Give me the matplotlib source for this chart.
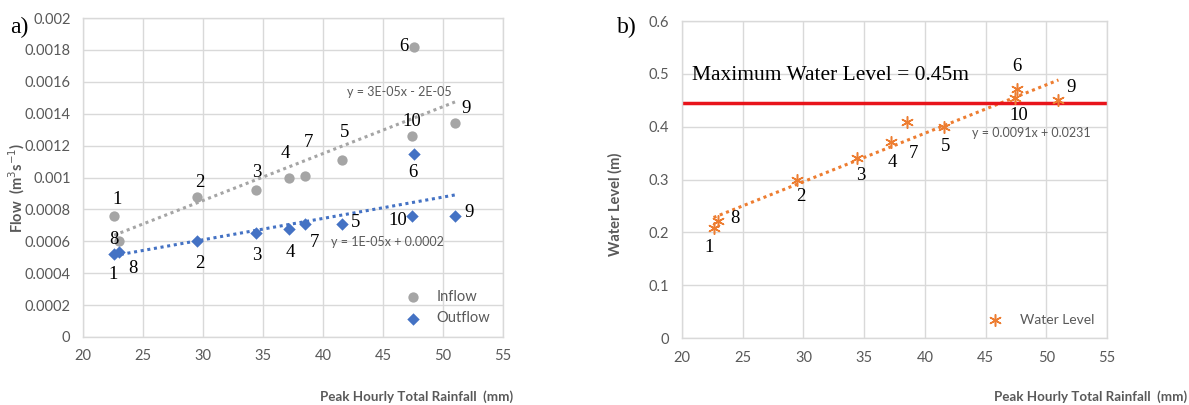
import numpy as np
import matplotlib
matplotlib.use("Agg")
import matplotlib.pyplot as plt

# ---------------- data ----------------
events = ["1", "2", "3", "4", "5", "6", "7", "8", "9", "10"]
rainfall = [22.6, 29.5, 34.4, 37.2, 41.6, 47.6, 38.5, 23.0, 51.0, 47.4]
inflow = [0.00076, 0.00088, 0.00092, 0.00100, 0.00111, 0.00182, 0.00101, 0.00060, 0.00134, 0.00126]
outflow = [0.00052, 0.00060, 0.00065, 0.00068, 0.00071, 0.00115, 0.00071, 0.00053, 0.00076, 0.00076]
water_level = [0.208, 0.30, 0.34, 0.371, 0.40, 0.471, 0.409, 0.222, 0.45, 0.455]
max_level = 0.445

# label anchor positions (data coords) for event numbers
in_lab_x = [22.8, 29.7, 34.5, 36.9, 41.8, 46.7, 38.8, 22.6, 51.9, 47.4]
in_lab_y = [0.00086, 0.00097, 0.00103, 0.00115, 0.00128, 0.00182, 0.00122, 0.00061, 0.00143, 0.00135]
out_lab_x = [22.5, 29.7, 34.5, 37.25, 42.75, 47.5, 39.25, 24.2, 52.2, 46.25]
out_lab_y = [0.00039, 0.00046, 0.00051, 0.00053, 0.000715, 0.00103, 0.00059, 0.00043, 0.00078, 0.00073]
wl_lab_x = [22.2, 29.8, 34.7, 37.3, 41.7, 47.6, 39.1, 24.4, 52.0, 47.75]
wl_lab_y = [0.172, 0.267, 0.308, 0.333, 0.362, 0.513, 0.35, 0.227, 0.475, 0.422]

x_ticks = [20, 25, 30, 35, 40, 45, 50, 55]
flow_ticks = [0, 0.0002, 0.0004, 0.0006, 0.0008, 0.001, 0.0012, 0.0014, 0.0016, 0.0018, 0.002]
flow_ticklabels = ["0", "0.0002", "0.0004", "0.0006", "0.0008", "0.001", "0.0012",
                   "0.0014", "0.0016", "0.0018", "0.002"]
wl_ticks = [0, 0.1, 0.2, 0.3, 0.4, 0.5, 0.6]
wl_ticklabels = ["0", "0.1", "0.2", "0.3", "0.4", "0.5", "0.6"]

# ---------------- style ----------------
GRID = "#D9D9D9"
TXT = "#595959"
SANS = ["Lato", "DejaVu Sans"]
SERIF = ["Liberation Serif", "DejaVu Serif"]
C_IN = "#A5A5A5"
C_OUT = "#4472C4"
C_WL = "#ED7D31"

W, H = 1189, 405
fig = plt.figure(figsize=(W / 100, H / 100), dpi=100)


def px_axes(x0, y0, x1, y1):
    return fig.add_axes([x0 / W, 1 - y1 / H, (x1 - x0) / W, (y1 - y0) / H])


def style(ax, yticks, ylabels):
    ax.set_xlim(20, 55)
    ax.set_xticks(x_ticks)
    ax.set_xticklabels([str(t) for t in x_ticks], fontfamily=SANS, fontsize=10.5, color=TXT)
    ax.set_yticks(yticks)
    ax.set_yticklabels(ylabels, fontfamily=SANS, fontsize=10.5, color=TXT)
    ax.set_ylim(yticks[0], yticks[-1])
    ax.grid(True, color=GRID, linewidth=1.0)
    ax.set_axisbelow(True)
    for s in ax.spines.values():
        s.set_color(GRID)
        s.set_linewidth(1.0)
    ax.tick_params(length=0, pad=9)


# ---------------- panel a ----------------
ax1 = px_axes(83, 18, 503, 337)
style(ax1, flow_ticks, flow_ticklabels)
ax1.scatter(rainfall, inflow, s=55, color=C_IN, marker="o", zorder=3, label="Inflow", linewidths=0)
ax1.scatter(rainfall, outflow, s=40, color=C_OUT, marker="D", zorder=3, label="Outflow",
            linewidths=0)
xr = np.array([min(rainfall), max(rainfall)])
p_in = np.polyfit(rainfall, inflow, 1)
p_out = np.polyfit(rainfall, outflow, 1)
ax1.plot(xr, np.polyval(p_in, xr), linestyle=(0, (1, 1.2)), color=C_IN, linewidth=2.2, zorder=2)
ax1.plot(xr, np.polyval(p_out, xr), linestyle=(0, (1, 1.2)), color=C_OUT, linewidth=2.2, zorder=2)
ax1.text(42.0, 0.001536, "y = 3E-05x - 2E-05", fontfamily=SANS, fontsize=9, color=TXT,
         va="center", ha="left")
ax1.text(40.7, 0.000595, "y = 1E-05x + 0.0002", fontfamily=SANS, fontsize=9, color=TXT,
         va="center", ha="left")
for e, lx, ly in zip(events, in_lab_x, in_lab_y):
    ax1.text(lx, ly, e, fontfamily=SERIF, fontsize=13.5, color="black", ha="center", va="center")
for e, lx, ly in zip(events, out_lab_x, out_lab_y):
    ax1.text(lx, ly, e, fontfamily=SERIF, fontsize=13.5, color="black", ha="center", va="center")
leg1 = ax1.legend(loc="lower right", bbox_to_anchor=(1.0, -0.005), frameon=False,
                  prop={"family": SANS, "size": 10.5}, handletextpad=0.6, labelspacing=0.5,
                  labelcolor=TXT)
fig.text(17 / W, 1 - 188 / H, "Flow  (m$^{3}$s$^{-1}$)", fontfamily=SANS, fontsize=10.5,
         fontweight="bold", color=TXT, rotation=90, ha="center", va="center")
fig.text(513 / W, 1 - 397 / H, "Peak Hourly Total Rainfall  (mm)", fontfamily=SANS,
         fontsize=9.6, fontweight="bold", color=TXT, ha="right", va="center")
fig.text(10 / W, 1 - 27 / H, "a)", fontfamily=SERIF, fontsize=17, ha="left", va="center")

# ---------------- panel b ----------------
ax2 = px_axes(682, 21, 1107, 338)
style(ax2, wl_ticks, wl_ticklabels)
ax2.scatter(rainfall, water_level, s=70, color=C_WL, marker=(6, 2, 0), zorder=3,
            label="Water Level", linewidths=1.1)
p_wl = np.polyfit(rainfall, water_level, 1)
ax2.plot(xr, np.polyval(p_wl, xr), linestyle=(0, (1, 1.2)), color=C_WL, linewidth=2.2, zorder=2)
ax2.axhline(max_level, xmin=0.005, xmax=1.0, color="#E8141B", linewidth=2.5, zorder=2)
ax2.text(43.9, 0.388, "y = 0.0091x + 0.0231", fontfamily=SANS, fontsize=9, color=TXT,
         va="center", ha="left")
ax2.text(20.8, 0.497, "Maximum Water Level = 0.45m", fontfamily=SERIF, fontsize=15.5,
         color="black", ha="left", va="center")
for e, lx, ly in zip(events, wl_lab_x, wl_lab_y):
    ax2.text(lx, ly, e, fontfamily=SERIF, fontsize=13.5, color="black", ha="center", va="center")
leg2 = ax2.legend(loc="lower right", bbox_to_anchor=(1.0, 0.0), frameon=False,
                  prop={"family": SANS, "size": 10}, handletextpad=0.8, labelcolor=TXT)
fig.text(615 / W, 1 - 204 / H, "Water Level (m)", fontfamily=SANS, fontsize=10.5,
         fontweight="bold", color=TXT, rotation=90, ha="center", va="center")
fig.text(1187 / W, 1 - 397 / H, "Peak Hourly Total Rainfall  (mm)", fontfamily=SANS,
         fontsize=9.6, fontweight="bold", color=TXT, ha="right", va="center")
fig.text(617 / W, 1 - 27 / H, "b)", fontfamily=SERIF, fontsize=17, ha="left", va="center")

fig.savefig("out.png", dpi=100)
